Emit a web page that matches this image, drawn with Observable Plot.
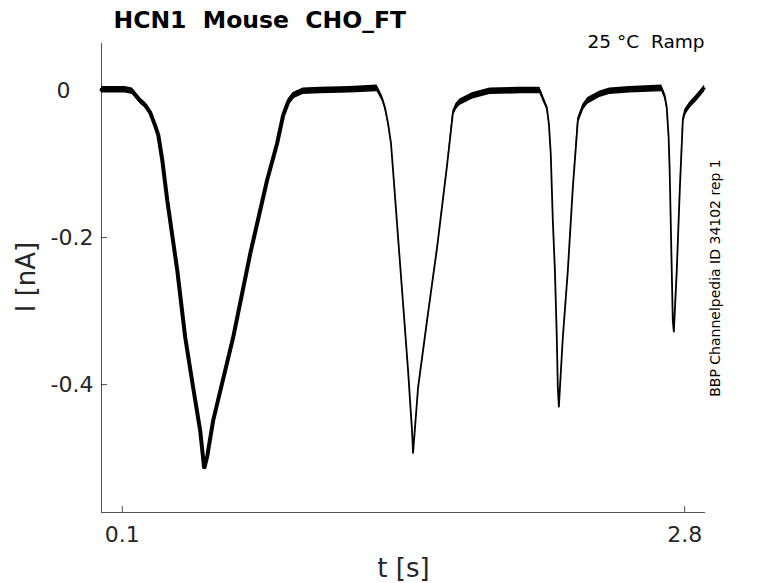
<!DOCTYPE html>
<html><head><meta charset="utf-8">
<script src="https://cdn.jsdelivr.net/npm/d3@7"></script>
<script src="https://cdn.jsdelivr.net/npm/@observablehq/plot@0.6"></script>
<style>body{margin:0;background:#fff}</style>
</head><body><div id="chart"></div>
<script>
// Time (s), current (nA) and noise half-width (nA)
const time = [0.000,0.066,0.114,0.148,0.186,0.210,0.234,0.258,0.273,0.292,0.316,0.364,0.402,0.440,0.474,0.493,0.508,0.536,0.632,0.714,0.795,0.843,0.872,0.896,0.920,0.968,1.050,1.193,1.323,1.347,1.361,1.376,1.390,1.400,1.424,1.448,1.472,1.491,1.496,1.520,1.563,1.611,1.659,1.687,1.702,1.721,1.783,1.865,2.009,2.105,2.119,2.138,2.148,2.157,2.167,2.177,2.186,2.191,2.196,2.215,2.239,2.263,2.287,2.311,2.335,2.393,2.440,2.536,2.690,2.704,2.714,2.723,2.728,2.738,2.743,2.748,2.762,2.777,2.791,2.801,2.825,2.858,2.896];
const current = [0.001,0.001,0.001,-0.001,-0.014,-0.020,-0.030,-0.048,-0.061,-0.095,-0.150,-0.245,-0.336,-0.404,-0.463,-0.514,-0.497,-0.449,-0.336,-0.222,-0.122,-0.072,-0.034,-0.016,-0.007,-0.001,0.000,0.001,0.003,-0.010,-0.023,-0.045,-0.072,-0.109,-0.200,-0.290,-0.381,-0.463,-0.493,-0.404,-0.313,-0.214,-0.102,-0.031,-0.022,-0.016,-0.007,-0.001,0.000,0.000,-0.010,-0.023,-0.045,-0.086,-0.177,-0.245,-0.336,-0.404,-0.430,-0.336,-0.245,-0.132,-0.041,-0.023,-0.014,-0.005,-0.001,0.001,0.003,-0.007,-0.023,-0.064,-0.109,-0.245,-0.313,-0.328,-0.245,-0.132,-0.041,-0.030,-0.020,-0.010,0.003];
const noise = [0.0045,0.0045,0.0045,0.0045,0.004,0.004,0.004,0.0035,0.003,0.002,0.001,0.001,0.001,0.001,0.001,0.001,0.001,0.001,0.001,0.001,0.001,0.002,0.004,0.0045,0.0045,0.0045,0.0045,0.0045,0.0045,0.004,0.003,0.001,0.0005,0.0005,0.0005,0.0005,0.0005,0.0005,0.0005,0.0005,0.0005,0.0005,0.0005,0.004,0.0045,0.0045,0.0045,0.0045,0.0045,0.0045,0.004,0.003,0.001,0.0005,0.0005,0.0005,0.0005,0.0005,0.0005,0.0005,0.0005,0.0005,0.004,0.0045,0.0045,0.0045,0.0045,0.0045,0.0045,0.004,0.002,0.0005,0.0005,0.0005,0.0005,0.0005,0.0005,0.0005,0.004,0.0045,0.0045,0.0045,0.0045];

const xTicks = [0.1, 2.8];
const yTickZero = [0];
const yTicksNeg = [-0.2, -0.4];
const xDomain = [0, 2.9];
const yDomain = [-0.574, 0.064];
const rampEnd = 0.97; // end of the first (slow) ramp pulse, drawn with a heavier stroke
const titleText = "HCN1  Mouse  CHO_FT";
const conditionText = "25 °C  Ramp";
const sideText = "BBP Channelpedia ID 34102 rep 1";
const xLabel = "t [s]";
const yLabel = "I [nA]";

const trace = time.map((t, k) => ({t, i: current[k], lo: current[k] - noise[k], hi: current[k] + noise[k]}));

const W = 778, H = 583, mL = 101, mR = 73, mT = 43, mB = 71;
const ink = "#262626";
const font = "DejaVu Sans";
const fmt = d => d === 0 ? "0" : d.toFixed(1);

const chart = Plot.plot({
  width: W, height: H,
  marginLeft: mL, marginRight: mR, marginTop: mT, marginBottom: mB,
  style: {fontFamily: font, color: ink, background: "#fff", overflow: "visible"},
  x: {domain: xDomain},
  y: {domain: yDomain},
  marks: [
    Plot.axisX(xTicks, {tickSize: 0, tickPadding: 14, fontSize: 22, tickFormat: d => d.toFixed(1), label: null, fill: ink}),
    Plot.axisY(yTickZero, {tickSize: 0, tickPadding: 31, fontSize: 22, tickFormat: fmt, label: null, fill: ink}),
    Plot.axisY(yTicksNeg, {tickSize: 0, tickPadding: 8, fontSize: 22, tickFormat: fmt, label: null, fill: ink}),
    Plot.ruleX([xDomain[0]], {stroke: ink, strokeWidth: 0.8}),
    Plot.ruleY([yDomain[0]], {stroke: ink, strokeWidth: 0.8}),
    Plot.ruleX(xTicks, {stroke: ink, strokeWidth: 0.8, insetTop: H - mT - mB - 6}),
    Plot.ruleY([...yTickZero, ...yTicksNeg], {stroke: ink, strokeWidth: 0.8, insetRight: W - mL - mR - 6}),
    Plot.areaY(trace, {x: "t", y1: "lo", y2: "hi", fill: "#000"}),
    Plot.line(trace.filter(d => d.t <= rampEnd), {x: "t", y: "i", stroke: "#000", strokeWidth: 4, strokeLinejoin: "miter"}),
    Plot.line(trace, {x: "t", y: "i", stroke: "#000", strokeWidth: 1.8}),
    Plot.text([titleText], {frameAnchor: "top-left", textAnchor: "start", lineAnchor: "bottom", dx: 12, dy: -16, fontSize: 23.5, fontWeight: "bold", fill: "#000"}),
    Plot.text([conditionText], {frameAnchor: "top-right", textAnchor: "end", lineAnchor: "bottom", dx: -1, dy: 4, fontSize: 18.5, fill: "#000"}),
    Plot.text([sideText], {frameAnchor: "right", textAnchor: "middle", lineAnchor: "bottom", rotate: -90, dx: 14, dy: 0, fontSize: 14, fill: "#000"}),
    Plot.text([xLabel], {frameAnchor: "bottom", textAnchor: "middle", lineAnchor: "bottom", dy: 64, fontSize: 26, fill: ink}),
    Plot.text([yLabel], {frameAnchor: "left", textAnchor: "middle", lineAnchor: "middle", rotate: -90, dx: -75, dy: -1, fontSize: 26, fill: ink})
  ]
});
document.getElementById("chart").appendChild(chart);
</script>
</body></html>
